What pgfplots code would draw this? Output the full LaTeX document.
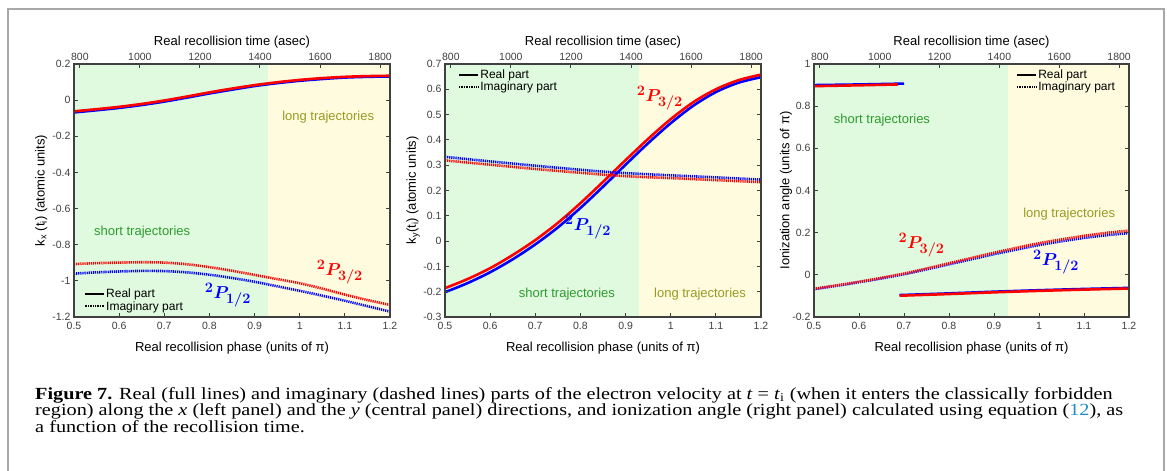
\documentclass[border=0pt]{standalone}
\usepackage{pgfplots}
\pgfplotsset{compat=1.18}
\usepackage{fontspec}
\usepackage{bm}
\setmainfont{Liberation Serif}
\newfontfamily\sans{Liberation Sans}
\definecolor{greenbg}{HTML}{DFFADF}
\definecolor{yellowbg}{HTML}{FEFBDF}
\definecolor{shortc}{HTML}{2E9B2E}
\definecolor{longc}{HTML}{9A9A22}
\definecolor{axisgray}{HTML}{404040}
\definecolor{framegray}{HTML}{A8A8A8}
\definecolor{linkblue}{HTML}{1E8BC8}
\definecolor{cred}{HTML}{FF0000}
\definecolor{cblue}{HTML}{0000FF}
\tikzset{
  ann/.style={font=\sans\fontsize{13}{14}\selectfont},
  lab/.style={font=\fontsize{19}{19}\selectfont},
}
\pgfplotsset{
  panel/.style={
    scale only axis, width=316pt, height=253pt, anchor=south west,
    xmin=0.5, xmax=1.2, xtick={0.5,0.6,0.7,0.8,0.9,1,1.1,1.2},
    xtick pos=bottom, ytick pos=both, tick align=inside,
    major tick length=4pt,
    axis line style={axisgray, line width=1.2pt},
    major tick style={axisgray, line width=1pt},
    tick label style={font=\sans\fontsize{10.5}{12}\selectfont, text=axisgray},
    xticklabel style={yshift=-2pt},
    /pgf/number format/assume math mode=true,
    /pgf/number format/1000 sep={},
    label style={font=\sans\fontsize{13}{14}\selectfont},
    xlabel={Real recollision phase (units of π)},
    xlabel style={at={(axis description cs:0.5,-0.122)}, anchor=center},
    axis on top,
    legend cell align=left,
    legend style={draw=none, fill=none, font=\sans\fontsize{12}{13}\selectfont,
      inner sep=0pt, row sep=-0.5pt, nodes={inner sep=1.5pt}},
    legend image code/.code={\draw[##1] (0pt,0pt) -- (19pt,0pt);},
  },
  toppanel/.style={
    scale only axis, width=316pt, height=253pt, anchor=south west,
    xmin=780.5, xmax=1833, ymin=0, ymax=1,
    axis x line*=top, hide y axis, xtick={800,1000,1200,1400,1600,1800},
    tick align=inside, major tick length=4pt,
    axis line style={axisgray, line width=1.2pt},
    major tick style={axisgray, line width=1pt},
    tick label style={font=\sans\fontsize{10.5}{12}\selectfont, text=axisgray},
    /pgf/number format/assume math mode=true,
    /pgf/number format/1000 sep={},
    label style={font=\sans\fontsize{13}{14}\selectfont},
    xlabel={Real recollision time (asec)},
    xlabel style={at={(axis description cs:0.5,1.087)}, anchor=center},
  },
  solidc/.style={line width=2.6pt, forget plot, smooth},
  dotc/.style={line width=2.6pt, dash pattern=on 1.2pt off 0.9pt, forget plot, smooth},
}
\begin{document}
\begin{tikzpicture}[x=1pt,y=1pt]
\useasboundingbox (0,0) rectangle (1167,-471);
\fill[white] (0,0) rectangle (1167,-471);
\draw[framegray, line width=2pt] (8,-471) -- (8,-9) -- (1164,-9) -- (1164,-471);

% ---------------- Panel 1 ----------------
\begin{axis}[panel, at={(74pt,-317pt)}, ymin=-1.2, ymax=0.2,
  ytick={-1.2,-1,-0.8,-0.6,-0.4,-0.2,0,0.2},
  ylabel={k\textsubscript{x} (t\textsubscript{i}) (atomic units)},
  ylabel style={at={(axis description cs:-0.104,0.5)}, anchor=center},
  legend style={at={(0.03,0.015)}, anchor=south west}]
\fill[greenbg] (axis cs:0.5,-1.2) rectangle (axis cs:0.93,0.2);
\fill[yellowbg] (axis cs:0.93,-1.2) rectangle (axis cs:1.2,0.2);
\addlegendimage{black, line width=2pt}\addlegendentry{Real part}
\addlegendimage{black, line width=2pt, dash pattern=on 1pt off 0.7pt}\addlegendentry{Imaginary part}
\addplot[cblue, solidc] coordinates {(0.5,-0.068)(0.55,-0.056)(0.6,-0.043)(0.65,-0.027)(0.7,-0.008)(0.75,0.014)(0.8,0.037)(0.85,0.058)(0.9,0.078)(0.95,0.094)(1.0,0.107)(1.05,0.117)(1.1,0.125)(1.15,0.129)(1.2,0.131)};
\addplot[cred, solidc] coordinates {(0.5,-0.062)(0.55,-0.050)(0.6,-0.037)(0.65,-0.021)(0.7,-0.002)(0.75,0.020)(0.8,0.043)(0.85,0.064)(0.9,0.083)(0.95,0.099)(1.0,0.112)(1.05,0.122)(1.1,0.129)(1.15,0.133)(1.2,0.135)};
\addplot[cblue, dotc] coordinates {(0.5,-0.960)(0.55,-0.953)(0.6,-0.948)(0.65,-0.945)(0.7,-0.946)(0.75,-0.953)(0.8,-0.966)(0.85,-0.984)(0.9,-1.005)(0.95,-1.030)(1.0,-1.055)(1.05,-1.082)(1.1,-1.110)(1.15,-1.140)(1.2,-1.170)};
\addplot[cred, dotc] coordinates {(0.5,-0.907)(0.55,-0.902)(0.6,-0.899)(0.65,-0.897)(0.7,-0.899)(0.75,-0.908)(0.8,-0.924)(0.85,-0.944)(0.9,-0.967)(0.95,-0.990)(1.0,-1.013)(1.05,-1.043)(1.1,-1.076)(1.15,-1.106)(1.2,-1.133)};
\node[ann, text=shortc] at (axis cs:0.651,-0.730) {short trajectories};
\node[ann, text=longc] at (axis cs:1.063,-0.093) {long trajectories};
\node[lab, text=cred] at (axis cs:1.089,-0.951) {$^{\bm{2}}\bm{P}_{\bm{3/2}}$};
\node[lab, text=cblue] at (axis cs:0.841,-1.078) {$^{\bm{2}}\bm{P}_{\bm{1/2}}$};
\end{axis}
\begin{axis}[toppanel, at={(74pt,-317pt)}]
\end{axis}

% ---------------- Panel 2 ----------------
\begin{axis}[panel, at={(445pt,-317pt)}, ymin=-0.3, ymax=0.7,
  ytick={-0.3,-0.2,-0.1,0,0.1,0.2,0.3,0.4,0.5,0.6,0.7},
  ylabel={k\textsubscript{y}(t\textsubscript{i}) (atomic units)},
  ylabel style={at={(axis description cs:-0.101,0.5)}, anchor=center},
  legend style={at={(0.04,0.985)}, anchor=north west}]
\fill[greenbg] (axis cs:0.5,-0.3) rectangle (axis cs:0.93,0.7);
\fill[yellowbg] (axis cs:0.93,-0.3) rectangle (axis cs:1.2,0.7);
\addlegendimage{black, line width=2pt}\addlegendentry{Real part}
\addlegendimage{black, line width=2pt, dash pattern=on 1pt off 0.7pt}\addlegendentry{Imaginary part}
\addplot[cblue, solidc] coordinates {(0.5,-0.202)(0.55,-0.166)(0.6,-0.123)(0.65,-0.072)(0.7,-0.013)(0.75,0.054)(0.8,0.131)(0.85,0.215)(0.9,0.302)(0.95,0.387)(1.0,0.466)(1.05,0.535)(1.1,0.589)(1.15,0.626)(1.2,0.648)};
\addplot[cred, solidc] coordinates {(0.5,-0.186)(0.55,-0.150)(0.6,-0.107)(0.65,-0.055)(0.7,0.004)(0.75,0.072)(0.8,0.150)(0.85,0.234)(0.9,0.320)(0.95,0.404)(1.0,0.482)(1.05,0.549)(1.1,0.600)(1.15,0.636)(1.2,0.658)};
\addplot[cblue, dotc] coordinates {(0.5,0.333)(0.6,0.315)(0.7,0.298)(0.8,0.282)(0.87,0.272)(0.93,0.266)(1.0,0.260)(1.1,0.252)(1.2,0.243)};
\addplot[cred, dotc] coordinates {(0.5,0.319)(0.6,0.302)(0.7,0.285)(0.8,0.270)(0.87,0.260)(0.93,0.254)(1.0,0.249)(1.1,0.241)(1.2,0.233)};
\node[ann, text=shortc] at (axis cs:0.770,-0.209) {short trajectories};
\node[ann, text=longc] at (axis cs:1.065,-0.209) {long trajectories};
\node[lab, text=cred] at (axis cs:0.976,0.566) {$^{\bm{2}}\bm{P}_{\bm{3/2}}$};
\node[lab, text=cblue] at (axis cs:0.817,0.056) {$^{\bm{2}}\bm{P}_{\bm{1/2}}$};
\end{axis}
\begin{axis}[toppanel, at={(445pt,-317pt)}]
\end{axis}

% ---------------- Panel 3 ----------------
\begin{axis}[panel, at={(814pt,-317pt)}, width=315pt, ymin=-0.2, ymax=1,
  ytick={-0.2,0,0.2,0.4,0.6,0.8,1},
  ylabel={Ionization angle (units of π)},
  ylabel style={at={(axis description cs:-0.089,0.5)}, anchor=center},
  legend style={at={(0.64,0.985)}, anchor=north west}]
\fill[greenbg] (axis cs:0.5,-0.2) rectangle (axis cs:0.93,1);
\fill[yellowbg] (axis cs:0.93,-0.2) rectangle (axis cs:1.2,1);
\addlegendimage{black, line width=2pt}\addlegendentry{Real part}
\addlegendimage{black, line width=2pt, dash pattern=on 1pt off 0.7pt}\addlegendentry{Imaginary part}
\addplot[cblue, solidc] coordinates {(0.5,0.900)(0.6,0.903)(0.7,0.907)};
\addplot[cred, solidc] coordinates {(0.5,0.895)(0.6,0.899)(0.686,0.903)};
\addplot[cblue, solidc] coordinates {(0.69,-0.096)(0.8,-0.088)(0.9,-0.080)(1.0,-0.073)(1.1,-0.067)(1.2,-0.062)};
\addplot[cred, solidc] coordinates {(0.69,-0.099)(0.8,-0.091)(0.9,-0.083)(1.0,-0.076)(1.1,-0.070)(1.2,-0.065)};
\addplot[cblue, dotc] coordinates {(0.5,-0.068)(0.55,-0.052)(0.6,-0.035)(0.65,-0.017)(0.7,0.003)(0.75,0.026)(0.8,0.050)(0.85,0.074)(0.9,0.098)(0.95,0.120)(1.0,0.141)(1.05,0.159)(1.1,0.175)(1.15,0.188)(1.2,0.198)};
\addplot[cred, dotc] coordinates {(0.5,-0.066)(0.55,-0.050)(0.6,-0.033)(0.65,-0.014)(0.7,0.006)(0.75,0.030)(0.8,0.055)(0.85,0.080)(0.9,0.105)(0.95,0.128)(1.0,0.150)(1.05,0.168)(1.1,0.185)(1.15,0.199)(1.2,0.210)};
\node[ann, text=shortc] at (axis cs:0.651,0.734) {short trajectories};
\node[ann, text=longc] at (axis cs:1.067,0.288) {long trajectories};
\node[lab, text=cred] at (axis cs:0.739,0.141) {$^{\bm{2}}\bm{P}_{\bm{3/2}}$};
\node[lab, text=cblue] at (axis cs:1.038,0.061) {$^{\bm{2}}\bm{P}_{\bm{1/2}}$};
\end{axis}
\begin{axis}[toppanel, at={(814pt,-317pt)}, width=315pt]
\end{axis}

% ---------------- Caption ----------------
\node[anchor=north west, inner sep=0pt, align=left, transform shape, xscale=1.19,
  font=\fontsize{17}{16.5}\selectfont] at (35,-387)
{\textbf{Figure 7.} Real (full lines) and imaginary (dashed lines) parts of the electron velocity at \textit{t}~=~\textit{t}\textsubscript{i} (when it enters the classically forbidden\\
region) along the \textit{x} (left panel) and the \textit{y} (central panel) directions, and ionization angle (right panel) calculated using equation (\textcolor{linkblue}{12}), as\\
a function of the recollision time.};
\end{tikzpicture}
\end{document}
